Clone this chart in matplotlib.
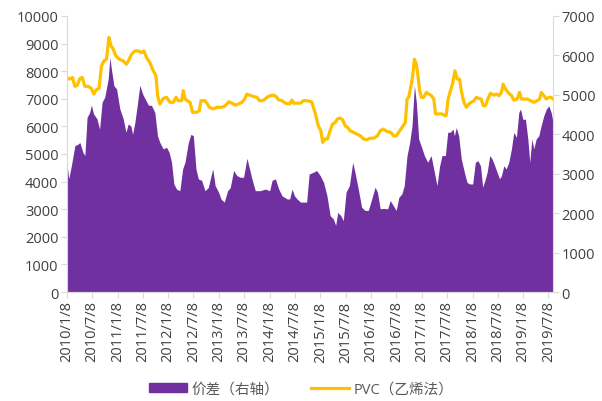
import numpy as np
import pandas as pd
import matplotlib
matplotlib.use("Agg")
import matplotlib.pyplot as plt
import matplotlib.dates as mdates
from matplotlib.patches import Patch
from matplotlib.lines import Line2D

plt.rcParams['font.family'] = ['Open Sans', 'Noto Sans CJK SC', 'DejaVu Sans']

# 价差 (right axis)
spread_dates = [
    "2010-01-08", "2010-01-22", "2010-02-10", "2010-03-07", "2010-03-29", "2010-04-12", "2010-05-04", "2010-05-18",
    "2010-06-03", "2010-06-21", "2010-07-04", "2010-07-19", "2010-08-13", "2010-09-01", "2010-09-19", "2010-10-08",
    "2010-11-02", "2010-11-14", "2010-11-25", "2010-12-13", "2011-01-01", "2011-01-25", "2011-02-18", "2011-03-10",
    "2011-03-26", "2011-04-14", "2011-04-27", "2011-05-13", "2011-05-30", "2011-06-18", "2011-07-08", "2011-07-27",
    "2011-08-18", "2011-09-10", "2011-10-04", "2011-10-23", "2011-11-09", "2011-12-03", "2011-12-27", "2012-01-15",
    "2012-02-01", "2012-02-18", "2012-03-08", "2012-04-01", "2012-04-21", "2012-05-08", "2012-06-01", "2012-06-20",
    "2012-07-07", "2012-07-26", "2012-08-12", "2012-09-05", "2012-09-29", "2012-10-23", "2012-11-09", "2012-11-24",
    "2012-12-11", "2013-01-05", "2013-01-22", "2013-02-15", "2013-03-11", "2013-03-30", "2013-04-23", "2013-05-17",
    "2013-06-10", "2013-07-04", "2013-07-28", "2013-08-16", "2013-09-02", "2013-09-26", "2013-11-01", "2013-12-07",
    "2014-01-08", "2014-01-25", "2014-02-18", "2014-03-14", "2014-04-07", "2014-05-13", "2014-06-01", "2014-06-18",
    "2014-07-05", "2014-07-24", "2014-08-18", "2014-10-01", "2014-10-19", "2014-11-17", "2014-12-12", "2015-01-07",
    "2015-01-31", "2015-02-24", "2015-03-19", "2015-04-12", "2015-04-28", "2015-05-13", "2015-06-03", "2015-06-22",
    "2015-07-12", "2015-08-05", "2015-08-29", "2015-09-14", "2015-10-08", "2015-11-01", "2015-11-25", "2015-12-19",
    "2016-01-13", "2016-02-06", "2016-02-23", "2016-03-14", "2016-04-07", "2016-05-06", "2016-05-25", "2016-06-13",
    "2016-07-07", "2016-07-26", "2016-08-17", "2016-09-03", "2016-09-23", "2016-10-12", "2016-10-29", "2016-11-15",
    "2016-11-29", "2016-12-16", "2017-01-02", "2017-01-26", "2017-02-19", "2017-03-15", "2017-04-03", "2017-04-27",
    "2017-05-16", "2017-06-02", "2017-06-26", "2017-07-13", "2017-08-01", "2017-08-20", "2017-08-30", "2017-09-13",
    "2017-09-30", "2017-10-19", "2017-11-10", "2017-11-29", "2017-12-18", "2018-01-09", "2018-01-28", "2018-02-16",
    "2018-03-06", "2018-03-22", "2018-04-06", "2018-04-23", "2018-05-12", "2018-05-29", "2018-06-17", "2018-07-04",
    "2018-07-21", "2018-08-04", "2018-08-21", "2018-09-07", "2018-09-26", "2018-10-15", "2018-11-01", "2018-11-20",
    "2018-12-07", "2018-12-19", "2019-01-05", "2019-01-24", "2019-02-10", "2019-02-24", "2019-03-11", "2019-03-25",
    "2019-04-11", "2019-04-30", "2019-05-17", "2019-06-05", "2019-06-24", "2019-07-11", "2019-07-28", "2019-08-11",
]
spread_vals = [
    3290, 2870, 3210, 3710, 3750, 3790, 3540, 3460,
    4430, 4550, 4740, 4520, 4390, 4130, 4810, 4940,
    5400, 5950, 5650, 5230, 5150, 4640, 4390, 4050,
    4260, 4210, 4000, 4300, 4730, 5240, 5020, 4890,
    4740, 4730, 4550, 3960, 3790, 3630, 3670, 3540,
    3290, 2740, 2610, 2570, 3120, 3290, 3790, 4000,
    3960, 3120, 2870, 2830, 2570, 2650, 2910, 3120,
    2700, 2530, 2360, 2280, 2570, 2650, 3080, 2950,
    2910, 2910, 3390, 3120, 2870, 2570, 2570, 2610,
    2570, 2830, 2870, 2610, 2440, 2360, 2360, 2610,
    2440, 2360, 2280, 2280, 2990, 3035, 3080, 2950,
    2780, 2450, 1940, 1850, 1690, 2020, 1940, 1810,
    2530, 2700, 3290, 3035, 2610, 2150, 2070, 2070,
    2360, 2660, 2530, 2110, 2120, 2110, 2320, 2210,
    2070, 2400, 2490, 2700, 3460, 3790, 4220, 5230,
    4810, 3880, 3710, 3460, 3290, 3460, 3120, 2700,
    3200, 3460, 3460, 4050, 4050, 4130, 3960, 4170,
    3960, 3370, 3035, 2780, 2740, 2740, 3290, 3330,
    3200, 2660, 2820, 3035, 3460, 3370, 3200, 3035,
    2870, 2950, 3200, 3120, 3290, 3630, 4050, 3920,
    4550, 4640, 4380, 4380, 3880, 3290, 3880, 3630,
    3880, 3960, 4220, 4470, 4640, 4720, 4550, 4300,
]

# PVC（乙烯法） (left axis)
pvc_dates = [
    "2010-01-08", "2010-01-29", "2010-02-18", "2010-03-07", "2010-03-24", "2010-04-12", "2010-04-29", "2010-05-18",
    "2010-06-11", "2010-07-04", "2010-07-21", "2010-08-09", "2010-08-28", "2010-09-15", "2010-10-02", "2010-10-21",
    "2010-11-07", "2010-11-22", "2010-12-08", "2010-12-27", "2011-01-21", "2011-02-18", "2011-03-14", "2011-04-02",
    "2011-04-19", "2011-05-13", "2011-06-06", "2011-06-30", "2011-07-17", "2011-08-05", "2011-08-29", "2011-09-17",
    "2011-10-12", "2011-10-24", "2011-11-09", "2011-12-03", "2011-12-28", "2012-01-21", "2012-02-14", "2012-03-04",
    "2012-03-20", "2012-04-14", "2012-04-26", "2012-05-08", "2012-05-25", "2012-06-13", "2012-07-02", "2012-07-31",
    "2012-08-19", "2012-08-31", "2012-09-29", "2012-10-16", "2012-10-31", "2012-11-28", "2012-12-23", "2013-01-22",
    "2013-02-15", "2013-03-06", "2013-03-18", "2013-04-11", "2013-05-05", "2013-05-29", "2013-06-22", "2013-07-11",
    "2013-07-28", "2013-08-16", "2013-09-14", "2013-10-08", "2013-10-27", "2013-11-13", "2013-11-30", "2013-12-19",
    "2014-01-12", "2014-02-05", "2014-02-24", "2014-03-13", "2014-04-06", "2014-04-30", "2014-05-31", "2014-06-17",
    "2014-06-29", "2014-07-23", "2014-08-16", "2014-09-08", "2014-10-01", "2014-11-06", "2014-11-30", "2014-12-24",
    "2015-01-11", "2015-01-25", "2015-02-11", "2015-02-28", "2015-03-19", "2015-04-05", "2015-04-24", "2015-05-11",
    "2015-05-30", "2015-06-17", "2015-07-06", "2015-07-23", "2015-08-11", "2015-09-04", "2015-09-28", "2015-10-22",
    "2015-11-15", "2015-12-09", "2016-01-02", "2016-01-26", "2016-02-24", "2016-03-14", "2016-04-03", "2016-05-01",
    "2016-05-30", "2016-06-18", "2016-07-08", "2016-07-24", "2016-08-18", "2016-09-11", "2016-09-23", "2016-10-05",
    "2016-10-17", "2016-11-03", "2016-11-15", "2016-11-29", "2016-12-11", "2016-12-23", "2017-01-05", "2017-01-21",
    "2017-02-10", "2017-02-27", "2017-03-18", "2017-04-04", "2017-04-16", "2017-05-10", "2017-06-03", "2017-06-20",
    "2017-07-02", "2017-07-16", "2017-08-02", "2017-08-19", "2017-09-03", "2017-09-20", "2017-10-06", "2017-10-21",
    "2017-11-07", "2017-11-24", "2017-12-13", "2017-12-30", "2018-01-18", "2018-02-04", "2018-02-23", "2018-03-11",
    "2018-03-26", "2018-04-11", "2018-04-28", "2018-05-17", "2018-06-11", "2018-06-30", "2018-07-17", "2018-08-04",
    "2018-08-16", "2018-09-02", "2018-09-26", "2018-10-16", "2018-11-01", "2018-11-25", "2018-12-12", "2018-12-27",
    "2019-01-13", "2019-02-06", "2019-03-02", "2019-03-26", "2019-04-19", "2019-05-06", "2019-05-18", "2019-06-06",
    "2019-06-23", "2019-07-12", "2019-07-28", "2019-08-11",
]
pvc_vals = [
    7770, 7710, 7770, 7450, 7490, 7730, 7770, 7450,
    7450, 7370, 7170, 7330, 7370, 8190, 8370, 8430,
    9220, 8920, 8800, 8550, 8430, 8370, 8250, 8430,
    8610, 8730, 8730, 8670, 8730, 8490, 8310, 8070,
    7830, 7110, 6810, 7010, 7050, 6870, 6870, 7050,
    6930, 6930, 7290, 6990, 6930, 6870, 6510, 6510,
    6570, 6930, 6930, 6810, 6690, 6630, 6690, 6690,
    6720, 6810, 6890, 6840, 6770, 6810, 6870, 6990,
    7170, 7130, 7080, 7050, 6930, 6930, 6960, 7050,
    7110, 7130, 7080, 6960, 6930, 6840, 6810, 6950,
    6840, 6840, 6840, 6930, 6930, 6890, 6510, 6020,
    5840, 5420, 5540, 5540, 5840, 6080, 6140, 6270,
    6300, 6240, 6020, 5960, 5840, 5780, 5720, 5660,
    5540, 5520, 5570, 5570, 5660, 5840, 5900, 5820,
    5780, 5660, 5660, 5780, 5960, 6140, 6990, 7050,
    7350, 7830, 8430, 8250, 7830, 7290, 7050, 7050,
    7230, 7170, 7110, 6990, 6450, 6450, 6450, 6390,
    6390, 6990, 7290, 7590, 8010, 7710, 7710, 7230,
    6870, 6690, 6810, 6870, 6930, 7050, 7010, 6990,
    6750, 6750, 6990, 7200, 7130, 7170, 7110, 7230,
    7530, 7350, 7200, 7110, 6950, 6990, 7230, 6990,
    6990, 6990, 6930, 6870, 6930, 6990, 7230, 7110,
    6990, 7050, 7050, 6990,
]

tick_dates = ["2010-01-08", "2010-07-08", "2011-01-08", "2011-07-08", "2012-01-08", "2012-07-08",
              "2013-01-08", "2013-07-08", "2014-01-08", "2014-07-08", "2015-01-08", "2015-07-08",
              "2016-01-08", "2016-07-08", "2017-01-08", "2017-07-08", "2018-01-08", "2018-07-08",
              "2019-01-08", "2019-07-08"]
tick_labels = ["2010/1/8", "2010/7/8", "2011/1/8", "2011/7/8", "2012/1/8", "2012/7/8",
               "2013/1/8", "2013/7/8", "2014/1/8", "2014/7/8", "2015/1/8", "2015/7/8",
               "2016/1/8", "2016/7/8", "2017/1/8", "2017/7/8", "2018/1/8", "2018/7/8",
               "2019/1/8", "2019/7/8"]

purple = "#7030A0"
gold = "#FFC000"
axis_grey = "#D9D9D9"
text_grey = "#404040"

sd = pd.to_datetime(spread_dates)
pd_ = pd.to_datetime(pvc_dates)

fig = plt.figure(figsize=(6.02, 4.02), dpi=100)
ax = fig.add_axes([0.111, 0.271, 0.808, 0.687])
ax2 = ax.twinx()

# area on the right axis, behind the PVC line
ax2.fill_between(sd, 0, spread_vals, color=purple, linewidth=0)
ax.plot(pd_, pvc_vals, color=gold, linewidth=2.3, solid_joinstyle='round')
ax.set_zorder(ax2.get_zorder() + 1)
ax.patch.set_visible(False)

ax.set_ylim(0, 10000)
ax2.set_ylim(0, 7000)
ax.set_yticks(np.arange(0, 10001, 1000))
ax2.set_yticks(np.arange(0, 7001, 1000))
ax.set_xlim(pd.Timestamp("2010-01-08"), pd.Timestamp("2019-08-12"))
ax.set_xticks(pd.to_datetime(tick_dates))
ax.set_xticklabels(tick_labels, rotation=90)

for a in (ax, ax2):
    a.spines['top'].set_visible(False)
    for s in ('left', 'right', 'bottom'):
        a.spines[s].set_color(axis_grey)
    a.tick_params(axis='both', colors=axis_grey, labelcolor=text_grey, labelsize=10.5, length=4)
ax.spines['right'].set_visible(False)
ax2.spines['left'].set_visible(False)
ax.tick_params(axis='x', pad=2)
ax.tick_params(axis='y', pad=2)
ax2.tick_params(axis='y', pad=2)

handles = [Patch(facecolor=purple, edgecolor=purple), Line2D([0], [0], color=gold, linewidth=2.3)]
fig.legend(handles, ["价差（右轴）", "PVC（乙烯法）"], loc='center', bbox_to_anchor=(0.5, 0.03),
           ncol=2, frameon=False, fontsize=10.5, labelcolor="#595959",
           handlelength=2.6, handleheight=0.6, columnspacing=2.2, handletextpad=0.3)

fig.savefig("out.png", dpi=100)
